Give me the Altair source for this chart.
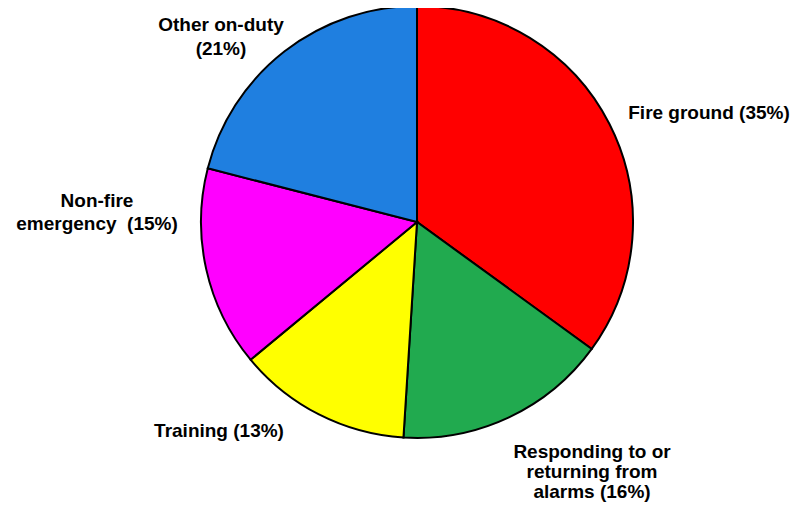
import altair as alt
import pandas as pd

# Data
categories = ["Fire ground", "Responding to or returning from alarms", "Training",
              "Non-fire emergency", "Other on-duty"]
values = [35, 16, 13, 15, 21]
colors = ["#FF0000", "#21AA4F", "#FFFF00", "#FF00FF", "#1F7FE0"]
label_texts = [
    "Fire ground (35%)",
    "Responding to or\nreturning from\nalarms (16%)",
    "Training (13%)",
    "Non-fire\nemergency\u00a0 (15%)",
    "Other on-duty\n(21%)",
]

# Styles / layout (view coordinates)
CX, CY, R = 409, 214, 216
LABEL_POS = [(701, 111), (584, 450), (211, 429), (89, 199), (213, 23)]
LINE_H = [20, 20, 20, 23, 24]
FONT = "Liberation Sans"

df = pd.DataFrame({"category": categories, "value": values,
                   "idx": list(range(len(categories)))})

pie = alt.Chart(df).mark_arc(
    outerRadius=R, x=CX, y=CY, stroke="black", strokeWidth=2
).encode(
    theta=alt.Theta("value:Q", stack=True),
    color=alt.Color("category:N", scale=alt.Scale(domain=categories, range=colors),
                    legend=None),
    order=alt.Order("idx:Q"),
)

layers = [pie]
for txt, (lx, ly), lh in zip(label_texts, LABEL_POS, LINE_H):
    ldf = pd.DataFrame({"label": [txt]})
    layers.append(
        alt.Chart(ldf).mark_text(
            x=lx, y=ly, align="center", baseline="alphabetic", lineBreak="\n",
            font=FONT, fontSize=19, fontWeight="bold", color="black", lineHeight=lh
        ).encode(text="label:N")
    )

chart = alt.layer(*layers).properties(
    width=785, height=500, padding=0,
    autosize=alt.AutoSizeParams(type="none"),
).configure_view(stroke=None).configure(background="white")

chart.save("out.html", embed_options={"renderer": "svg", "actions": False})
